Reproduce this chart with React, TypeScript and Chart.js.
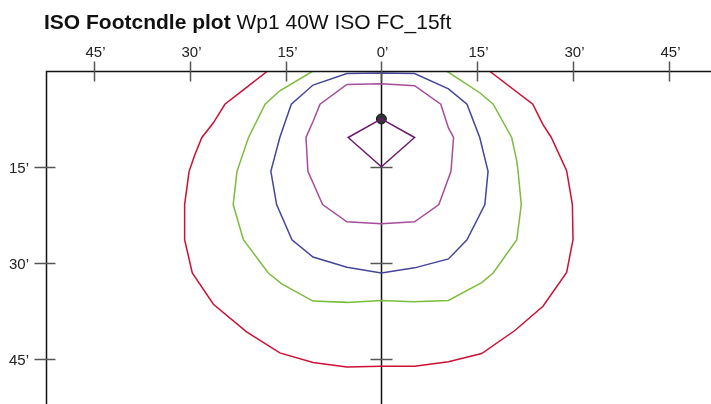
import React, { useEffect, useRef } from 'react';
import { Chart, registerables } from 'chart.js';
Chart.register(...registerables);

const titleBold = 'ISO Footcndle plot';
const titleRest = 'Wp1 40W ISO FC_15ft';

const xTicks = [-45, -30, -15, 0, 15, 30, 45];
const yTicks = [15, 30, 45];

const redX = [-17.8, -21.4, -24.5, -26.3, -28.1, -29.2, -30.1, -30.8, -30.8, -29.6, -26.3, -21.1, -15.9, -10.7, -5.4, 0, 5.2, 10.5, 15.7, 20.9, 25.3, 29.0, 30.0, 29.9, 29.0, 26.6, 25.3, 23.7, 16.9];
const redY = [0, 2.8, 5.2, 8.1, 10.4, 13.1, 15.7, 20.9, 26.4, 31.6, 36.5, 40.8, 44.1, 45.6, 46.3, 46.2, 46.2, 45.5, 44.2, 40.6, 36.8, 31.5, 26.4, 20.9, 15.6, 10.4, 8.4, 5.2, 0];

const greenX = [-10.7, -15.9, -18.2, -20.8, -22.6, -23.2, -21.6, -17.7, -15.6, -10.7, -5.4, 0, 5.0, 10.5, 15.7, 17.5, 21.2, 21.9, 21.4, 21.2, 20.4, 17.5, 15.4, 10.2];
const greenY = [0, 3.1, 5.2, 10.4, 15.7, 20.9, 26.4, 31.6, 33.3, 36.0, 36.2, 35.9, 36.1, 35.9, 33.1, 31.6, 26.4, 20.9, 15.7, 14.1, 10.4, 5.2, 3.4, 0];

const blueX = [0, -5.4, -10.7, -14.1, -15.9, -17.3, -16.4, -14.0, -10.7, -5.4, 0, 5.2, 10.5, 13.4, 16.2, 16.7, 15.4, 13.4, 10.5, 5.2, 0];
const blueY = [0.3, 0.4, 2.2, 5.2, 10.4, 15.7, 20.9, 26.4, 29.1, 30.7, 31.6, 30.8, 29.4, 26.4, 20.9, 15.7, 10.4, 5.2, 2.8, 0.4, 0.3];

const magX = [0, -5.4, -9.6, -10.7, -11.8, -11.5, -9.2, -5.4, 0, 5.2, 9.0, 10.9, 11.3, 10.5, 9.3, 5.2, 0];
const magY = [2.0, 2.1, 5.2, 7.9, 10.4, 15.7, 20.9, 23.6, 23.9, 23.6, 20.9, 15.7, 10.4, 8.9, 5.2, 2.3, 2.0];

const diaX = [0, 5.2, 0, -5.2, 0];
const diaY = [7.5, 10.4, 15, 10.4, 7.5];

const fixtureX = [0];
const fixtureY = [7.5];

const zip = (xs: number[], ys: number[]) => xs.map((x, i) => ({ x, y: ys[i] }));

const line = (label: string, xs: number[], ys: number[], color: string, width = 1.5) => ({
  label,
  data: zip(xs, ys),
  showLine: true,
  borderColor: color,
  backgroundColor: color,
  borderWidth: width,
  pointRadius: 0,
  tension: 0,
});

const FONT = '"Liberation Sans", Arial, Helvetica, sans-serif';

export default function App() {
  const ref = useRef<HTMLCanvasElement>(null);
  useEffect(() => {
    document.body.style.margin = '0';
    const axesPlugin = {
      id: 'axesPlugin',
      beforeDatasetsDraw(chart: any) {
        const ctx = chart.ctx;
        const xs = chart.scales.x;
        const ys = chart.scales.y;
        const a = chart.chartArea;
        const x0 = Math.round(xs.getPixelForValue(0)) + 0.5;
        ctx.save();
        ctx.strokeStyle = '#111';
        ctx.lineWidth = 1.5;
        ctx.beginPath();
        ctx.moveTo(x0, a.top);
        ctx.lineTo(x0, a.bottom);
        ctx.stroke();
        ctx.strokeStyle = '#555';
        ctx.lineWidth = 1.5;
        for (const t of yTicks) {
          const py = Math.round(ys.getPixelForValue(t)) + 0.5;
          ctx.beginPath();
          ctx.moveTo(x0 - 11, py);
          ctx.lineTo(x0 + 11, py);
          ctx.stroke();
        }
        ctx.restore();
      },
      afterDatasetsDraw(chart: any) {
        const ctx = chart.ctx;
        const xs = chart.scales.x;
        const ys = chart.scales.y;
        const a = chart.chartArea;
        ctx.save();
        // title
        ctx.fillStyle = '#111';
        ctx.textBaseline = 'alphabetic';
        ctx.textAlign = 'left';
        ctx.font = `bold 21px ${FONT}`;
        ctx.fillText(titleBold, 44, 29);
        const w = ctx.measureText(titleBold + ' ').width;
        ctx.font = `21px ${FONT}`;
        ctx.fillText(titleRest, 44 + w, 29);
        // axis lines
        const top = Math.round(ys.getPixelForValue(0)) + 0.5;
        const left = Math.round(a.left) + 0.5;
        ctx.strokeStyle = '#111';
        ctx.lineWidth = 1.5;
        ctx.beginPath();
        ctx.moveTo(left, a.bottom);
        ctx.lineTo(left, top);
        ctx.lineTo(a.right, top);
        ctx.stroke();
        // ticks
        ctx.strokeStyle = '#555';
        ctx.lineWidth = 1.5;
        ctx.font = `15px ${FONT}`;
        ctx.fillStyle = '#222';
        for (const t of xTicks) {
          const px = Math.round(xs.getPixelForValue(t)) + 0.5;
          ctx.beginPath();
          ctx.moveTo(px, top - 10);
          ctx.lineTo(px, top + 10);
          ctx.stroke();
          ctx.textAlign = 'center';
          ctx.fillText(Math.abs(t) + '\u2019', px + 1, 57);
        }
        for (const t of yTicks) {
          const py = Math.round(ys.getPixelForValue(t)) + 0.5;
          ctx.beginPath();
          ctx.moveTo(left - 12, py);
          ctx.lineTo(left + 9, py);
          ctx.stroke();
          ctx.textAlign = 'right';
          ctx.textBaseline = 'middle';
          ctx.fillText(t + '\u2019', 29, py + 1);
          ctx.textBaseline = 'alphabetic';
        }
        ctx.restore();
      },
    };
    const chart = new Chart(ref.current!, {
      type: 'scatter',
      data: {
        datasets: [
          line('red', redX, redY, '#cc1034'),
          line('green', greenX, greenY, '#7cbc3c'),
          line('blue', blueX, blueY, '#45459a'),
          line('magenta', magX, magY, '#a64c9c'),
          line('fixture', diaX, diaY, '#6b1a6e'),
          {
            label: 'dot',
            data: zip(fixtureX, fixtureY),
            pointRadius: 5,
            pointBackgroundColor: '#333',
            pointBorderColor: '#111',
            pointBorderWidth: 1,
            showLine: false,
          } as any,
        ],
      },
      options: {
        animation: false,
        responsive: false,
        layout: { autoPadding: false, padding: { left: 46, top: 71, right: 0, bottom: 0 } },
        plugins: { legend: { display: false }, tooltip: { enabled: false }, title: { display: false } },
        scales: {
          x: { type: 'linear', display: false, min: -52.5, max: 51.6 },
          y: { type: 'linear', display: false, min: 0, max: 52.1, reverse: true },
        },
      },
      plugins: [axesPlugin],
    });
    return () => chart.destroy();
  }, []);
  return (
    <div style={{ position: 'absolute', left: 0, top: 0, width: 711, height: 404, background: '#fff' }}>
      <canvas ref={ref} width={711} height={404} style={{ display: 'block' }} />
    </div>
  );
}
